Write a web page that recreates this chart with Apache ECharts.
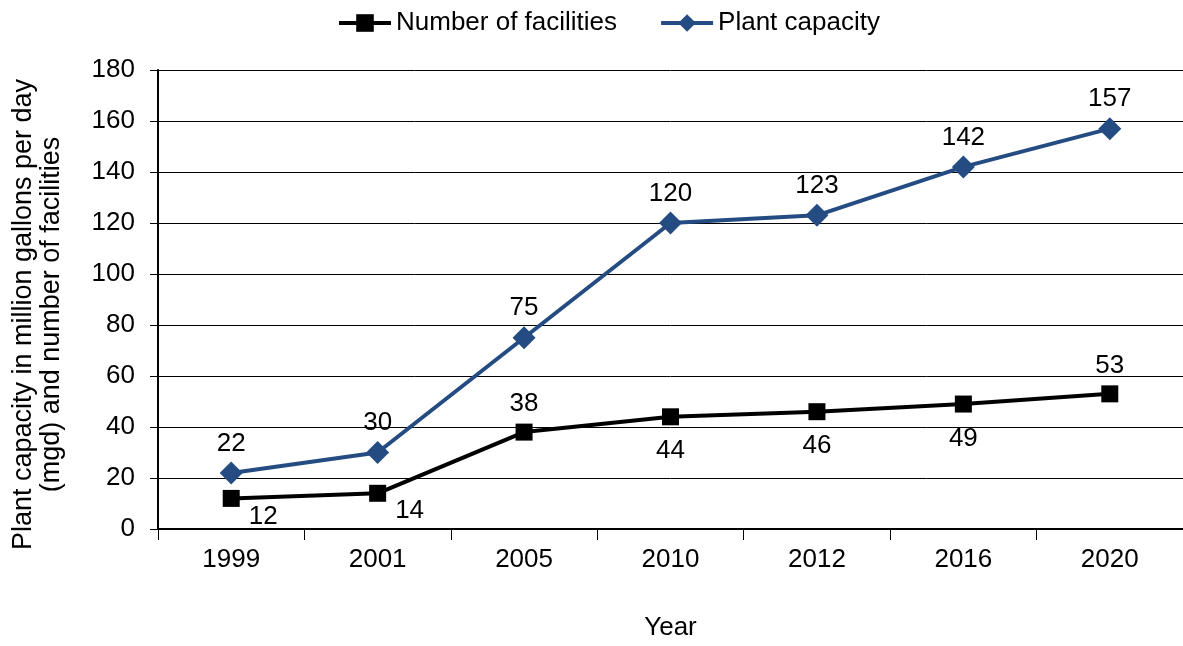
<html>
<head>
<meta charset="utf-8">
<title>Plant capacity and facilities</title>
<script src="https://cdn.jsdelivr.net/npm/echarts@6/dist/echarts.min.js"></script>
</head>
<body style="margin:0">
<div id="main" style="width:1183px;height:646px;"></div>
<script type="text/javascript">
var years = ['1999', '2001', '2005', '2010', '2012', '2016', '2020'];
var facilities = [12, 14, 38, 44, 46, 49, 53];
var capacity = [22, 30, 75, 120, 123, 142, 157];
// which side each facilities label sits on
var facLabelSide = ['rb', 'rb', 'top', 'bottom', 'bottom', 'bottom', 'top'];

var font = 'Liberation Sans, Arial, sans-serif';
var blue = '#244c82';
var fs = 26;

var facData = facilities.map(function (v, i) {
    var p = facLabelSide[i];
    var lab;
    if (p === 'rb') { lab = { position: 'right', offset: [4, 18] }; }
    else if (p === 'bottom') { lab = { position: 'bottom', distance: 13 }; }
    else { lab = { position: 'top', distance: 7 }; }
    return { value: v, label: lab };
});

var myChart = echarts.init(document.getElementById('main'));
myChart.setOption({
    animation: false,
    textStyle: { fontFamily: font },
    legend: {
        top: 5,
        left: 332,
        itemWidth: 52,
        itemHeight: 22,
        itemGap: 42,
        lineStyle: { width: 4 },
        textStyle: { fontSize: fs, color: '#000', fontFamily: font },
        data: ['Number of facilities', 'Plant capacity']
    },
    grid: { left: 158, right: -6, top: 70, bottom: 113, containLabel: false },
    xAxis: {
        type: 'category',
        data: years,
        boundaryGap: true,
        name: 'Year',
        nameLocation: 'middle',
        nameGap: 86,
        nameTextStyle: { fontSize: fs, color: '#000' },
        axisLine: { lineStyle: { color: '#000', width: 2 } },
        axisTick: { show: true, length: 11, lineStyle: { color: '#000', width: 1 } },
        axisLabel: { fontSize: fs, color: '#000', margin: 18 }
    },
    yAxis: {
        type: 'value',
        min: 0,
        max: 180,
        interval: 20,
        name: 'Plant capacity in million gallons per day\n(mgd) and number of facilities',
        nameLocation: 'middle',
        nameGap: 92,
        nameTextStyle: { fontSize: 27, color: '#000', lineHeight: 28, padding: [0, 30, 0, 0] },
        axisLine: { show: true, lineStyle: { color: '#000', width: 2 } },
        axisTick: { show: true, inside: false, length: 8, lineStyle: { color: '#000' } },
        axisLabel: { fontSize: fs, color: '#000', margin: 23 },
        splitLine: { show: true, lineStyle: { color: '#000', width: 1 } }
    },
    series: [
        {
            name: 'Number of facilities',
            type: 'line',
            data: facData,
            symbol: 'rect',
            symbolSize: 17,
            color: '#000',
            lineStyle: { color: '#000', width: 4 },
            itemStyle: { color: '#000' },
            label: { show: true, fontSize: fs, color: '#000' },
            z: 3
        },
        {
            name: 'Plant capacity',
            type: 'line',
            data: capacity,
            symbol: 'diamond',
            symbolSize: 23,
            color: blue,
            lineStyle: { color: blue, width: 4 },
            itemStyle: { color: blue },
            label: { show: true, position: 'top', distance: 5, fontSize: fs, color: '#000' },
            z: 2
        }
    ]
});
</script>
</body>
</html>
